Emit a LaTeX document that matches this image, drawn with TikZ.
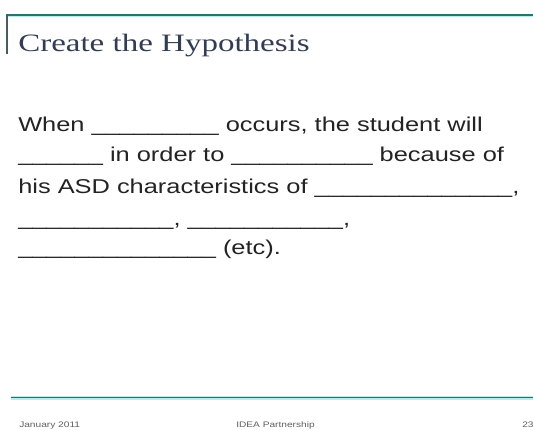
\documentclass[tikz,border=0pt]{standalone}
\usepackage{fontspec}
\usepackage{tikz}
\newfontfamily\bodyfont{Liberation Sans}
\newfontfamily\headfont{Liberation Serif}
\definecolor{rulecol}{RGB}{45,112,112}
\definecolor{glowcol}{RGB}{185,236,230}
\definecolor{barcol}{RGB}{72,92,92}
\definecolor{titlecol}{RGB}{50,60,84}
\definecolor{bodycol}{RGB}{35,35,35}
\definecolor{footcol}{RGB}{95,95,95}
\tikzstyle{bodyline} = [anchor=base west,inner sep=0pt,xscale=1.27,text=bodycol,font=\bodyfont\fontsize{20}{24}\selectfont]
\tikzstyle{titletext} = [anchor=base west,inner sep=0pt,xscale=1.32,text=titlecol,font=\headfont\fontsize{25}{30}\selectfont]
\tikzstyle{foottext} = [anchor=base west,inner sep=0pt,xscale=1.27,text=footcol,font=\bodyfont\fontsize{8}{10}\selectfont]
\newcommand{\blanks}[1]{\foreach \i in {1,...,#1}{\_}}

\begin{document}
\begin{tikzpicture}[x=1pt,y=-1pt]
    \useasboundingbox[fill=white] (0,0) rectangle (533,430);
    % rules of the slide
    \draw[glowcol,line width=3.5pt] (7,15.5) -- (533,15.5);
    \draw[rulecol,line width=1.5pt] (7,15) -- (533,15);
    \draw[barcol,line width=2pt] (7,14) -- (7,54);
    \draw[glowcol,line width=3.5pt] (11,398) -- (533,398);
    \draw[rulecol,line width=1.5pt] (11,397.5) -- (533,397.5);
    % title
    \node[titletext] (title) at (18,52) {Create the Hypothesis};
    % the sentence, line by line
    \node[bodyline] (when) at (18,132) {When \blanks{9} occurs, the student will};
    \node[bodyline] (order) at (18,162) {\blanks{6} in order to \blanks{10} because of};
    \node[bodyline] (traits) at (18,194) {his ASD characteristics of \blanks{14},};
    \node[bodyline] (more) at (18,226) {\blanks{11}, \blanks{11},};
    \node[bodyline] (etc) at (18,255) {\blanks{14} (etc).};
    % footer
    \node[foottext] (date) at (19,427) {January 2011};
    \node[foottext] (partner) at (236,427) {IDEA Partnership};
    \node[foottext] (page) at (522,427) {23};
\end{tikzpicture}
\end{document}
